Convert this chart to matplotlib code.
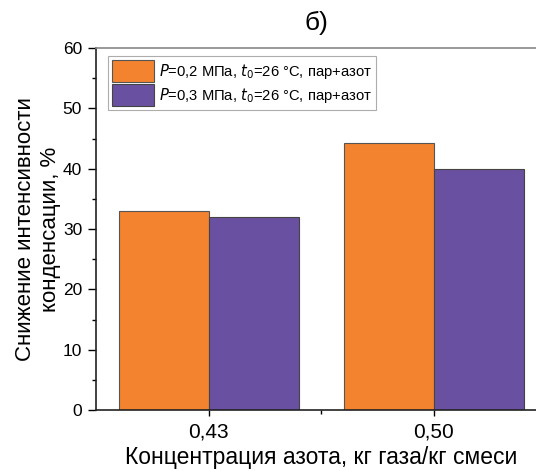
import numpy as np
import matplotlib.pyplot as plt
from matplotlib.ticker import MultipleLocator, FixedLocator

plt.rcParams['font.family'] = ['Liberation Sans', 'DejaVu Sans']

categories = ['0,43', '0,50']
p02_values = [33.0, 44.3]
p03_values = [32.0, 40.0]
series_labels = ['$\\it{P}$=0,2 МПа, $\\it{t}_0$=26 °C, пар+азот',
                 '$\\it{P}$=0,3 МПа, $\\it{t}_0$=26 °C, пар+азот']
colors = ['#F4832F', '#6A50A0']

fig = plt.figure(figsize=(5.36, 4.71), dpi=100)
ax = fig.add_axes([96 / 536, 61 / 471, 450 / 536, 362 / 471])

x = np.arange(len(categories))
w = 0.4
ax.bar(x - w / 2, p02_values, w, color=colors[0], edgecolor='#555555', linewidth=0.8,
       label=series_labels[0])
ax.bar(x + w / 2, p03_values, w, color=colors[1], edgecolor='#444444', linewidth=0.8,
       label=series_labels[1])

ax.set_xlim(-0.5, 1.5)
ax.set_ylim(0, 60)
ax.set_xticks(x)
ax.set_xticklabels(categories, fontsize=15)
ax.xaxis.set_minor_locator(FixedLocator([0.5]))
ax.yaxis.set_major_locator(MultipleLocator(10))
ax.yaxis.set_minor_locator(MultipleLocator(5))
ax.tick_params(axis='y', labelsize=12.5, direction='out', length=6, width=1, pad=4)
ax.tick_params(axis='x', direction='out', length=4, width=1, pad=5)
ax.tick_params(which='minor', direction='out', length=3, width=1)

for s in ['left', 'bottom']:
    ax.spines[s].set_linewidth(1.2)
    ax.spines[s].set_color('#222222')
ax.spines['top'].set_color('#888888')
ax.spines['top'].set_linewidth(1.2)
ax.spines['right'].set_visible(False)

ax.set_xlabel('Концентрация азота, кг газа/кг смеси', fontsize=16.5, labelpad=3)
ax.set_ylabel('Снижение интенсивности\nконденсации, %', fontsize=16, labelpad=1.5)
fig.text(316 / 536, 1 - 23 / 471, 'б)', ha='center', va='center', fontsize=19)

leg = ax.legend(loc='upper left', bbox_to_anchor=(0.02, 0.985), fontsize=10.6,
                fancybox=False, edgecolor='#999999', handlelength=2.9, handleheight=1.9,
                borderpad=0.25, labelspacing=0.15, handletextpad=0.35, borderaxespad=0.2)
leg.get_frame().set_linewidth(0.8)

fig.savefig('out.png', dpi=100)
